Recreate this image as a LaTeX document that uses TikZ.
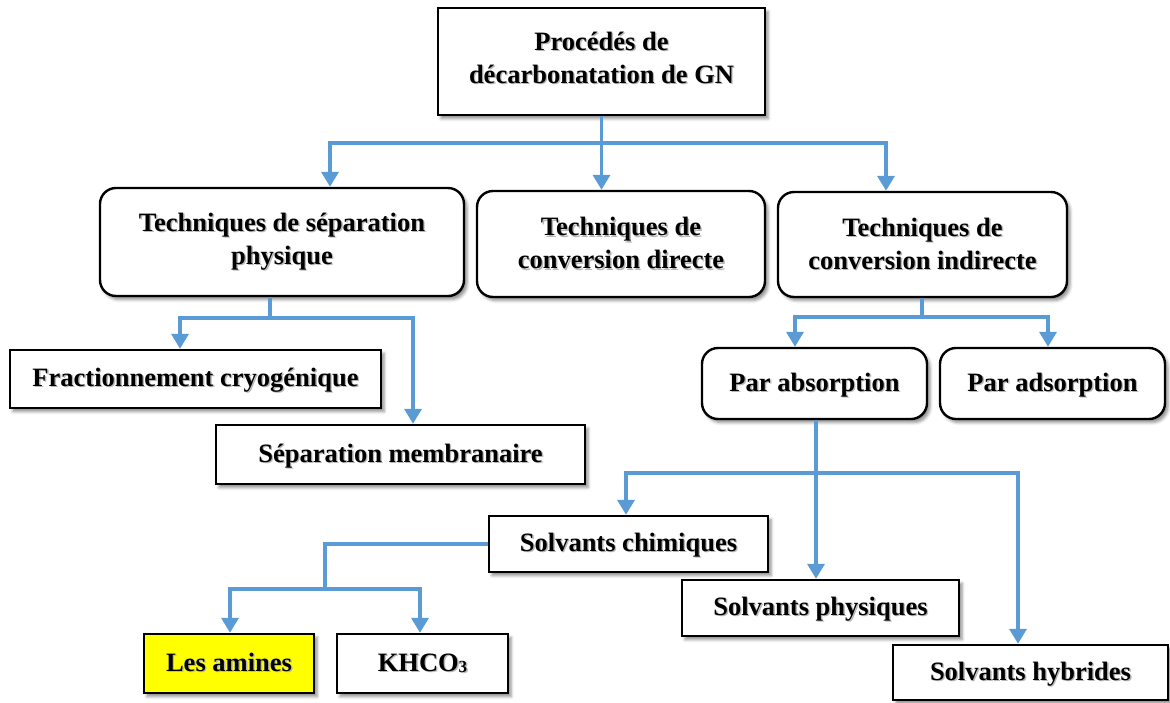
\documentclass[tikz,border=0pt]{standalone}
\usepackage{fontspec}
\setmainfont{Liberation Serif}
\usetikzlibrary{arrows.meta,shadows.blur}

\definecolor{linkblue}{HTML}{5B9BD5}
\definecolor{hilite}{HTML}{FFFF00}

% bold label with a soft grey offset copy behind it
\newcommand\shtxt[1]{\leavevmode\rlap{\kern1.4pt\raisebox{-1.4pt}{\textcolor{black!28}{#1}}}#1}

\begin{document}
\begin{tikzpicture}[x=1pt,y=-1pt,
  base/.style={draw=black, line width=2.4pt, fill=white, inner sep=0pt, align=center,
    font=\bfseries\fontsize{26.5}{33}\selectfont,
    blur shadow={shadow xshift=3pt, shadow yshift=-3.5pt, shadow blur radius=3pt, shadow opacity=45}},
  rbox/.style={base, rounded corners=16pt},
  sbox/.style={base},
  oneline/.style={text height=20pt, text depth=5pt},
  link/.style={draw=linkblue, line width=3.5pt},
  arr/.style={link, -{Triangle[width=17pt,length=15pt]}},
]
\useasboundingbox (0,0) rectangle (1170,702);

% boxes
\node[sbox, minimum width=327pt, minimum height=107pt] (top) at (601.5,61.5)
  {\shtxt{Procédés de}\\ \shtxt{décarbonatation de GN}\rule[-8pt]{0pt}{8pt}};
\node[rbox, minimum width=364pt, minimum height=108pt] (sep) at (282,242)
  {\shtxt{Techniques de séparation}\\ \shtxt{physique}};
\node[rbox, minimum width=288pt, minimum height=106pt] (dir) at (621,244)
  {\shtxt{Techniques de}\\ \shtxt{conversion directe}};
\node[rbox, minimum width=289pt, minimum height=105pt] (ind) at (922.5,244.5)
  {\shtxt{Techniques de}\\ \shtxt{conversion indirecte}};

\node[sbox, oneline, minimum width=371pt, minimum height=58pt] (frac) at (195.5,379)
  {\shtxt{Fractionnement cryogénique}};
\node[sbox, oneline, minimum width=369pt, minimum height=59pt] (memb) at (400.5,454.5)
  {\shtxt{Séparation membranaire}};

\node[rbox, oneline, minimum width=225pt, minimum height=71pt] (abs) at (814.5,383.5)
  {\shtxt{Par absorption}};
\node[rbox, oneline, minimum width=225pt, minimum height=71pt] (ads) at (1052.5,383.5)
  {\shtxt{Par adsorption}};

\node[sbox, oneline, minimum width=279pt, minimum height=56pt] (chim) at (628.5,544)
  {\shtxt{Solvants chimiques}};
\node[sbox, oneline, minimum width=277pt, minimum height=56pt] (phys) at (820.5,608)
  {\shtxt{Solvants physiques}};
\node[sbox, oneline, minimum width=275pt, minimum height=55pt] (hyb) at (1030.5,672.5)
  {\shtxt{Solvants hybrides}};

\node[sbox, oneline, fill=hilite, minimum width=170pt, minimum height=59pt] (amines) at (229,663.5)
  {\shtxt{Les amines}};
\node[sbox, oneline, minimum width=171pt, minimum height=59pt] (khco) at (422.5,663.5)
  {\shtxt{KHCO\raisebox{-1.5pt}{\fontsize{17}{17}\selectfont 3}}};

% junction points of the connectors
\coordinate (j1l) at (330,143);
\coordinate (j1r) at (886,143);
\coordinate (j2)  at (270,318);
\coordinate (j2l) at (180,318);
\coordinate (j2r) at (413,318);
\coordinate (j3)  at (922,317);
\coordinate (j3l) at (795,317);
\coordinate (j3r) at (1048,317);
\coordinate (j4)  at (816,473);
\coordinate (j4l) at (626,473);
\coordinate (j4r) at (1018,473);
\coordinate (j5)  at (325,589);
\coordinate (j5l) at (230,589);
\coordinate (j5r) at (420,589);

% connectors
\draw[arr] (top.south) -- (top.south |- dir.north);
\draw[arr] (top.south |- j1l) -- (j1l) -- (j1l |- sep.north);
\draw[arr] (top.south |- j1r) -- (j1r) -- (j1r |- ind.north);

\draw[link] (j2 |- sep.south) -- (j2);
\draw[arr] (j2) -- (j2l) -- (j2l |- frac.north);
\draw[arr] (j2) -- (j2r) -- (j2r |- memb.north);

\draw[link] (j3 |- ind.south) -- (j3);
\draw[arr] (j3) -- (j3l) -- (j3l |- abs.north);
\draw[arr] (j3) -- (j3r) -- (j3r |- ads.north);

\draw[arr] (j4 |- abs.south) -- (j4 |- phys.north);
\draw[arr] (j4) -- (j4l) -- (j4l |- chim.north);
\draw[arr] (j4) -- (j4r) -- (j4r |- hyb.north);

\draw[link] (chim.west) -- (chim.west -| j5) -- (j5);
\draw[arr] (j5) -- (j5l) -- (j5l |- amines.north);
\draw[arr] (j5) -- (j5r) -- (j5r |- khco.north);
\end{tikzpicture}
\end{document}
